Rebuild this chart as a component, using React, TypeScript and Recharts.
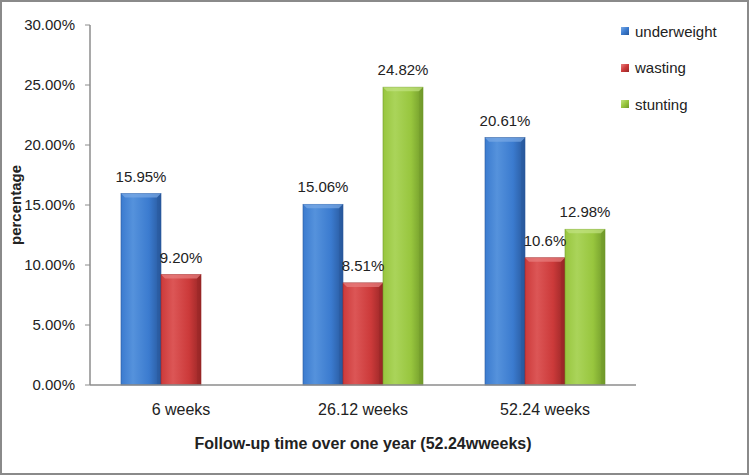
import React from 'react';
import { BarChart, Bar, XAxis, YAxis, LabelList } from 'recharts';

const categories = ['6 weeks', '26.12 weeks', '52.24 weeks'];
const underweight = [15.95, 15.06, 20.61];
const wasting = [9.2, 8.51, 10.6];
const stunting: (number | null)[] = [null, 24.82, 12.98];
const underweightLabels = ['15.95%', '15.06%', '20.61%'];
const wastingLabels = ['9.20%', '8.51%', '10.6%'];
const stuntingLabels = ['', '24.82%', '12.98%'];
const yTicks = [0, 5, 10, 15, 20, 25, 30];

const seriesNames = ['underweight', 'wasting', 'stunting'];
const seriesColors = [
  { dark: '#28589c', mid: '#3b7bcf', light: '#5592dc', top: '#7aaae6' },
  { dark: '#972626', mid: '#cc3a3a', light: '#dc5656', top: '#e88080' },
  { dark: '#70992a', mid: '#98c63e', light: '#aad45a', top: '#c2e282' },
];

const data = categories.map((c, i) => ({
  name: c,
  underweight: underweight[i],
  wasting: wasting[i],
  stunting: stunting[i],
  uLabel: underweightLabels[i],
  wLabel: wastingLabels[i],
  sLabel: stuntingLabels[i],
}));

const FONT = '"Liberation Sans", Arial, sans-serif';

const makeShape = (idx: number) => (props: any) => {
  const { x, y, width, height } = props;
  if (!height || height <= 0) return null;
  const b = Math.min(4, height / 2);
  const c = seriesColors[idx];
  return (
    <g>
      <rect x={x} y={y} width={width} height={height} fill={`url(#grad${idx})`} stroke={c.dark} strokeWidth={0.6} />
      <polygon
        points={`${x},${y} ${x + width},${y} ${x + width - b},${y + b} ${x + b},${y + b}`}
        fill={c.top}
        opacity={0.7}
      />
      <polygon
        points={`${x + width},${y} ${x + width - b},${y + b} ${x + width - b},${y + height} ${x + width},${y + height}`}
        fill={c.dark}
        opacity={0.4}
      />
    </g>
  );
};

const labelStyle = { fontSize: 15, fill: '#222', fontFamily: FONT };

export default function App() {
  return (
    <div
      style={{
        position: 'absolute',
        left: 0,
        top: 0,
        width: 749,
        height: 475,
        boxSizing: 'border-box',
        border: '2px solid #8a8a8a',
        background: '#fff',
        overflow: 'hidden',
        fontFamily: FONT,
      }}
    >
      <div style={{ position: 'absolute', left: -2, top: -2 }}>
        <BarChart
          width={749}
          height={475}
          data={data}
          margin={{ top: 25, right: 113, bottom: 0, left: 0 }}
          barCategoryGap={31}
          barGap={0}
        >
          <defs>
            {seriesColors.map((c, i) => (
              <linearGradient key={i} id={`grad${i}`} x1="0" y1="0" x2="1" y2="0">
                <stop offset="0%" stopColor={c.mid} />
                <stop offset="30%" stopColor={c.light} />
                <stop offset="70%" stopColor={c.mid} />
                <stop offset="100%" stopColor={c.dark} />
              </linearGradient>
            ))}
          </defs>
          <XAxis
            dataKey="name"
            height={90}
            tickLine={false}
            axisLine={{ stroke: '#8c8c8c', strokeWidth: 1.5 }}
            tick={{ fontSize: 16, fill: '#222', fontFamily: FONT }}
            tickMargin={13}
            label={{
              value: 'Follow-up time over one year (52.24wweeks)',
              position: 'insideBottom',
              offset: 26,
              style: { fontSize: 16, fontWeight: 'bold', fill: '#222', fontFamily: FONT },
            }}
          />
          <YAxis
            width={90}
            domain={[0, 30]}
            ticks={yTicks}
            interval={0}
            tickFormatter={(v: number) => v.toFixed(2) + '%'}
            axisLine={{ stroke: '#8c8c8c', strokeWidth: 1.5 }}
            tickLine={{ stroke: '#8c8c8c' }}
            tickSize={5}
            tickMargin={10}
            tick={{ fontSize: 15, fill: '#222', fontFamily: FONT }}
            label={{
              content: (p: any) => {
                const vb = p.viewBox || {};
                const cy = (vb.y || 25) + (vb.height || 360) / 2;
                return (
                  <text
                    x={17}
                    y={cy}
                    transform={`rotate(-90 17 ${cy})`}
                    textAnchor="middle"
                    dominantBaseline="middle"
                    style={{ fontSize: 15, fontWeight: 'bold', fill: '#222', fontFamily: FONT }}
                  >
                    percentage
                  </text>
                );
              },
            }}
          />
          <Bar dataKey="underweight" isAnimationActive={false} shape={makeShape(0)}>
            <LabelList dataKey="uLabel" position="top" offset={12} style={labelStyle} />
          </Bar>
          <Bar dataKey="wasting" isAnimationActive={false} shape={makeShape(1)}>
            <LabelList dataKey="wLabel" position="top" offset={12} style={labelStyle} />
          </Bar>
          <Bar dataKey="stunting" isAnimationActive={false} shape={makeShape(2)}>
            <LabelList dataKey="sLabel" position="top" offset={12} style={labelStyle} />
          </Bar>
        </BarChart>
      </div>
      <div style={{ position: 'absolute', left: 619, top: 11 }}>
        {seriesNames.map((n, i) => (
          <div key={n} style={{ display: 'flex', alignItems: 'center', height: 36.5, fontSize: 15, color: '#222' }}>
            <span
              style={{
                display: 'inline-block',
                width: 8,
                height: 8,
                marginRight: 6,
                background: `linear-gradient(135deg, ${seriesColors[i].top}, ${seriesColors[i].mid} 50%, ${seriesColors[i].dark})`,
              }}
            />
            {n}
          </div>
        ))}
      </div>
    </div>
  );
}
